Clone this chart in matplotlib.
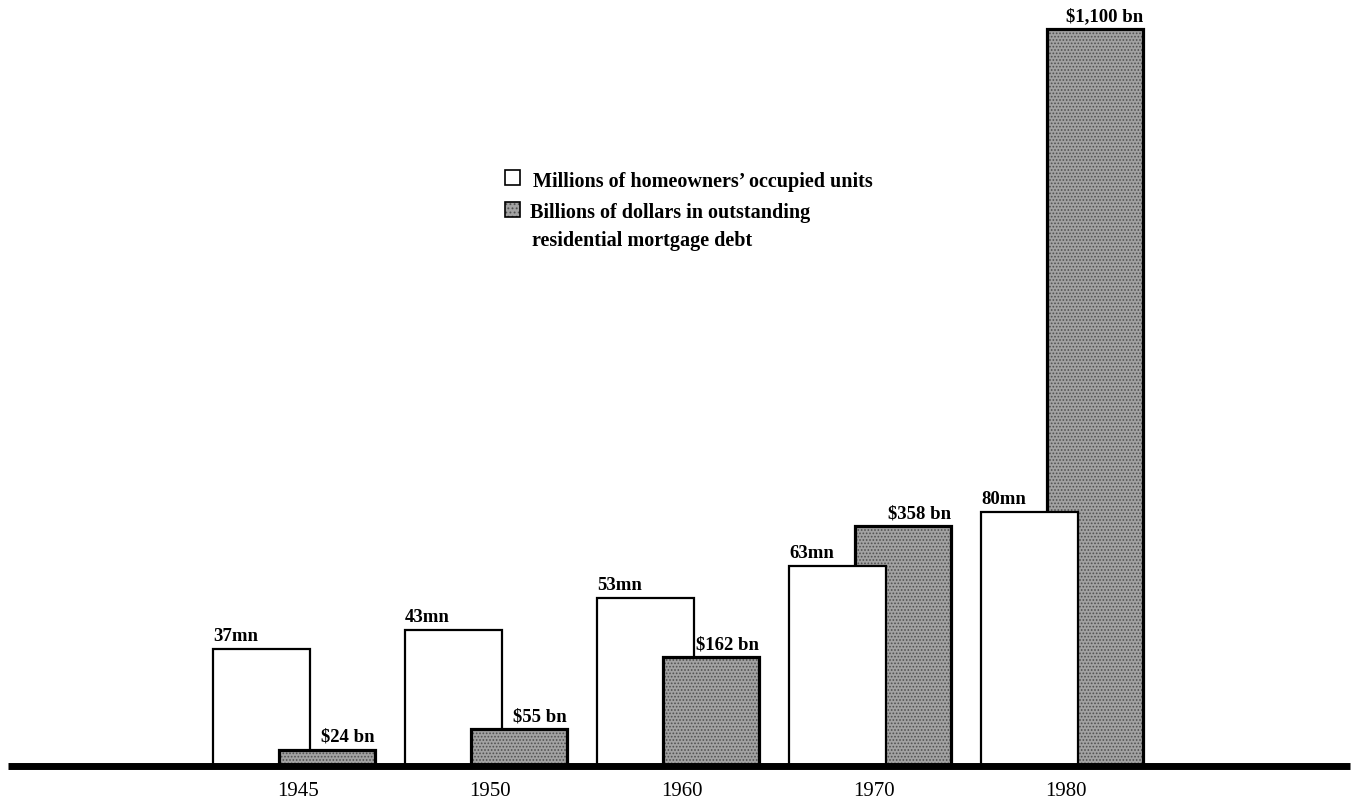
import numpy as np
import matplotlib
matplotlib.use("Agg")
import matplotlib.pyplot as plt
from matplotlib.transforms import blended_transform_factory
from matplotlib.patches import Rectangle

# ---- data ----
years = ["1945", "1950", "1960", "1970", "1980"]
units_mn = [37, 43, 53, 63, 80]
debt_bn = [24, 55, 162, 358, 1100]
unit_labels = ["37mn", "43mn", "53mn", "63mn", "80mn"]
debt_labels = ["$24 bn", "$55 bn", "$162 bn", "$358 bn", "$1,100 bn"]
legend_labels = ["Millions of homeowners\u2019 occupied units",
                 "Billions of dollars in outstanding",
                 "residential mortgage debt"]

plt.rcParams['font.family'] = ['Liberation Serif', 'DejaVu Serif']
plt.rcParams['hatch.linewidth'] = 0.8

W, H = 1356, 803
fig = plt.figure(figsize=(W / 100, H / 100), dpi=100)
base_px = 36
ax = fig.add_axes([0, base_px / H, 1, (H - base_px) / H])
ax2 = ax.twinx()

cat_px = 192.0
x0_px = 298.0
ax.set_xlim(-x0_px / cat_px, (W - x0_px) / cat_px)
ax.set_ylim(0, (H - base_px) / 3.17)
ax2.set_ylim(0, (H - base_px) / 0.67)
ax2.axis('off')
ax.set_frame_on(False)

x = np.arange(len(years))
ax.set_xticks(x, years)
ax.set_yticks([])
ax.tick_params(axis='x', length=0, pad=11, labelsize=15)

tr_grey = blended_transform_factory(ax.transData, ax2.transData)

w_left = x - 85 / cat_px
w_width = 97 / cat_px
g_left = x - 19 / cat_px
g_width = 96 / cat_px

GREY_FACE = '#a2a2a2'
GREY_DOTS = '#505050'

white = ax.bar(w_left, units_mn, width=w_width, align='edge',
               facecolor='white', edgecolor='black', linewidth=1.6)
grey_fill = ax.bar(g_left, debt_bn, width=g_width, align='edge',
                   facecolor=GREY_FACE, edgecolor=GREY_DOTS, hatch='.....',
                   linewidth=0, transform=tr_grey)
grey_edge = ax.bar(g_left, debt_bn, width=g_width, align='edge',
                   fill=False, edgecolor='black', linewidth=2.3,
                   transform=tr_grey)

# shorter bar of each pair in front
for i in range(len(years)):
    hw = ax.transData.transform((0, units_mn[i]))[1]
    hg = tr_grey.transform((0, debt_bn[i]))[1]
    if hw < hg:
        white[i].set_zorder(3)
        grey_fill[i].set_zorder(2)
        grey_edge[i].set_zorder(2)
    else:
        white[i].set_zorder(2)
        grey_fill[i].set_zorder(3)
        grey_edge[i].set_zorder(3)

# baseline
ax.axhline(0, xmin=8 / W, xmax=1350 / W, color='black', lw=5,
           zorder=6, clip_on=False, solid_capstyle='butt')

# value labels
for i in range(len(years)):
    ax.annotate(unit_labels[i], xy=(w_left[i], units_mn[i]), xycoords='data',
                xytext=(0, 6.5), textcoords='offset points',
                ha='left', va='baseline', fontsize=13.5, fontweight='bold')
    ax.annotate(debt_labels[i], xy=(g_left[i] + g_width, debt_bn[i]),
                xycoords=tr_grey, xytext=(0, 6.5), textcoords='offset points',
                ha='right', va='baseline', fontsize=13.5, fontweight='bold')

# legend (manual)
fig.add_artist(Rectangle((505 / W, 1 - 186 / H), 15 / W, 15 / H,
                         transform=fig.transFigure, facecolor='white',
                         edgecolor='black', linewidth=1.2))
fig.add_artist(Rectangle((505 / W, 1 - 218 / H), 15 / W, 15 / H,
                         transform=fig.transFigure, facecolor=GREY_FACE,
                         edgecolor=GREY_DOTS, hatch='....', linewidth=0))
fig.add_artist(Rectangle((505 / W, 1 - 218 / H), 15 / W, 15 / H,
                         transform=fig.transFigure, fill=False,
                         edgecolor='black', linewidth=1.2))
fig.text(533 / W, 1 - 187 / H, legend_labels[0], ha='left', va='baseline',
         fontsize=14.5, fontweight='bold')
fig.text(530 / W, 1 - 218 / H, legend_labels[1], ha='left', va='baseline',
         fontsize=14.5, fontweight='bold')
fig.text(532 / W, 1 - 246 / H, legend_labels[2], ha='left', va='baseline',
         fontsize=14.5, fontweight='bold')

fig.savefig("out.png", dpi=100, facecolor='white')
